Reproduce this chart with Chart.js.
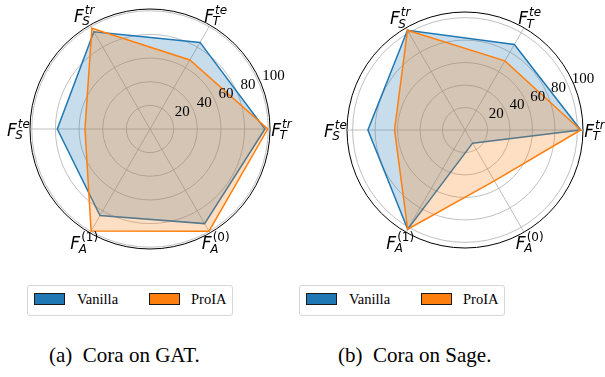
<!DOCTYPE html>
<html>
<head>
<meta charset="utf-8">
<script src="https://cdn.jsdelivr.net/npm/chart.js@4.4.0/dist/chart.umd.min.js"></script>
<style>
  body { margin: 0; background: #fff; font-family: "Liberation Serif", "Times New Roman", serif; }
  #page { position: relative; width: 605px; height: 377px; overflow: hidden; }
  canvas { position: absolute; top: 0; }
  .legend { position: absolute; top: 285px; width: 206px; height: 31px; box-sizing: border-box;
            border: 1px solid #d6d6d6; border-radius: 3px; font-size: 14.5px; color: #000; }
  .patch { position: absolute; top: 7px; width: 31px; height: 12px; box-sizing: border-box; border: 1px solid #1a1a1a; }
  .lbl { position: absolute; top: 5px; line-height: 17px; }
  .caption { position: absolute; top: 343px; font-size: 21px; line-height: 24px; color: #000; white-space: pre; }
</style>
</head>
<body>
<div id="page">
  <canvas id="gat" width="302" height="270" style="left:0px"></canvas>
  <canvas id="sage" width="302" height="270" style="left:303px"></canvas>

  <div class="legend" style="left:27px">
    <div class="patch" style="left:6px;background:#1f77b4"></div><div class="lbl" style="left:49px">Vanilla</div>
    <div class="patch" style="left:121px;background:#ff7f0e"></div><div class="lbl" style="left:163px">ProIA</div>
  </div>
  <div class="legend" style="left:299px">
    <div class="patch" style="left:6px;background:#1f77b4"></div><div class="lbl" style="left:49px">Vanilla</div>
    <div class="patch" style="left:121px;background:#ff7f0e"></div><div class="lbl" style="left:163px">ProIA</div>
  </div>

  <div class="caption" style="left:49px">(a)  Cora on GAT.</div>
  <div class="caption" style="left:338px">(b)  Cora on Sage.</div>
</div>
<script>
// axes, clockwise from the right: F_T^tr, F_A^(0), F_A^(1), F_S^te, F_S^tr, F_T^te
const categories = ["F_T^tr", "F_A^(0)", "F_A^(1)", "F_S^te", "F_S^tr", "F_T^te"];
const labelSup = ["tr", "(0)", "(1)", "te", "tr", "te"];
const labelSub = ["T", "A", "A", "S", "S", "T"];
const radialTicks = [20, 40, 60, 80, 100];

const gatVanilla = [97.2, 92.4, 84.6, 78.4, 95.0, 84.6];
const gatProIA = [99.6, 99.8, 99.6, 55.0, 98.3, 67.4];
const sageVanilla = [102.9, 13.5, 102.0, 86.4, 102.4, 87.9];
const sageProIA = [102.9, 52.3, 102.0, 62.7, 102.4, 71.0];

const gridGray = "#b0b0b0";

// tick labels at 22.5deg and the math-style axis labels
const polarText = {
  id: "polarText",
  afterDraw(chart) {
    const ctx = chart.ctx;
    const r = chart.scales.r;
    const a = 22.5 * Math.PI / 180;
    ctx.save();
    ctx.fillStyle = "#000";
    ctx.font = '15px "Liberation Serif"';
    ctx.textAlign = "left";
    ctx.textBaseline = "alphabetic";
    radialTicks.forEach(v => {
      const d = r.getDistanceFromCenterForValue(v);
      ctx.fillText(String(v), r.xCenter + d * Math.cos(a) + 3, r.yCenter - d * Math.sin(a) - 3.5);
    });

    const outer = r.getDistanceFromCenterForValue(r.max);
    categories.forEach((c, i) => {
      const p = r.getPointPosition(i, outer + 11.5);
      ctx.font = 'italic 17px "DejaVu Sans"';
      const wF = ctx.measureText("F").width;
      const supFont = labelSup[i][0] === "(" ? '12px "DejaVu Sans"' : 'italic 12px "DejaVu Sans"';
      ctx.font = supFont;
      const wSup = ctx.measureText(labelSup[i]).width;
      ctx.font = 'italic 12px "DejaVu Sans"';
      const wSub = ctx.measureText(labelSub[i]).width;
      const w = wF + Math.max(wSup + 1, wSub);
      const x0 = p.x - w / 2;
      const y0 = p.y + 6.5;
      ctx.font = 'italic 17px "DejaVu Sans"';
      ctx.fillText("F", x0, y0);
      ctx.font = supFont;
      ctx.fillText(labelSup[i], x0 + wF + 1, y0 - 8);
      ctx.font = 'italic 12px "DejaVu Sans"';
      ctx.fillText(labelSub[i], x0 + wF - 1.5, y0 + 3.5);
    });
    ctx.restore();
  }
};

function makeRadar(id, vanilla, proia, rMax, padding) {
  const isOuter = c => c.index === c.chart.scales.r.ticks.length - 1;
  return new Chart(document.getElementById(id), {
    type: "radar",
    data: {
      labels: categories,
      datasets: [
        { label: "Vanilla", data: vanilla, order: 1,
          borderColor: "#1f77b4", backgroundColor: "rgba(31,119,180,0.25)",
          borderWidth: 1.5, fill: true, pointRadius: 0, tension: 0 },
        { label: "ProIA", data: proia, order: 0,
          borderColor: "#ff7f0e", backgroundColor: "rgba(255,127,14,0.25)",
          borderWidth: 1.5, fill: true, pointRadius: 0, tension: 0 }
      ]
    },
    options: {
      responsive: false,
      animation: false,
      layout: { padding: padding },
      plugins: { legend: { display: false }, tooltip: { enabled: false } },
      scales: {
        r: {
          min: 0,
          max: rMax,
          startAngle: 90,
          afterBuildTicks: s => { s.ticks = [0].concat(radialTicks, [rMax]).map(v => ({ value: v })); },
          ticks: { display: false },
          pointLabels: { display: false },
          grid: {
            circular: true,
            color: c => isOuter(c) ? "#000" : gridGray,
            lineWidth: c => isOuter(c) ? 1 : 0.8
          },
          angleLines: { color: gridGray, lineWidth: 0.8 }
        }
      }
    },
    plugins: [polarText]
  });
}

makeRadar("gat", gatVanilla, gatProIA, 101.5, { left: 29.5, right: 31.5, top: 9, bottom: 20 });
makeRadar("sage", sageVanilla, sageProIA, 105, { left: 44, right: 21, top: 12, bottom: 21 });
</script>
</body>
</html>
